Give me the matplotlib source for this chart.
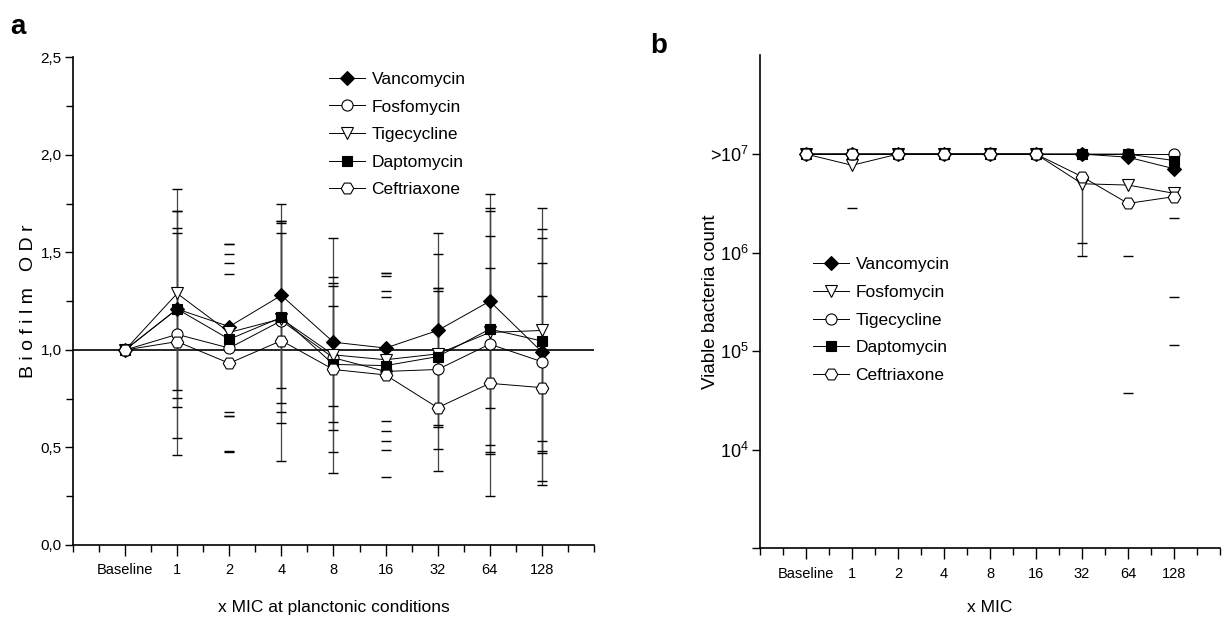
import numpy as np
import matplotlib
matplotlib.use("Agg")
import matplotlib.pyplot as plt
from matplotlib import font_manager
from matplotlib.ticker import FixedLocator, MultipleLocator, FuncFormatter, NullLocator

names = {f.name for f in font_manager.fontManager.ttflist}
font = 'Liberation Sans Narrow' if 'Liberation Sans Narrow' in names else 'Liberation Sans'
plt.rcParams['font.family'] = [font, 'DejaVu Sans']
plt.rcParams['mathtext.fontset'] = 'custom'
plt.rcParams['mathtext.rm'] = font

# x categories (shared by both panels)
mic_labels = ['Baseline', '1', '2', '4', '8', '16', '32', '64', '128']
xpos = np.arange(1, len(mic_labels) + 1)

# ---- panel a: biofilm ODr ----
drugs_a = ['Vancomycin', 'Fosfomycin', 'Tigecycline', 'Daptomycin', 'Ceftriaxone']
vanco_a = [1.0, 1.21, 1.12, 1.28, 1.04, 1.01, 1.10, 1.25, 0.99]
fosfo_a = [1.0, 1.08, 1.01, 1.15, 0.96, 0.89, 0.90, 1.03, 0.94]
tige_a = [1.0, 1.29, 1.09, 1.16, 0.975, 0.95, 0.98, 1.09, 1.10]
dapto_a = [1.0, 1.21, 1.055, 1.167, 0.926, 0.92, 0.966, 1.107, 1.046]
ceftr_a = [1.0, 1.043, 0.932, 1.048, 0.90, 0.872, 0.704, 0.829, 0.807]

# upper / lower error caps
vanco_hi = [np.nan, 1.714, 1.544, 1.747, 1.373, 1.397, 1.49, 1.80, 1.576]
vanco_lo = [np.nan, 0.756, 0.684, 0.807, 0.713, 0.636, 0.713, 0.704, 0.533]
fosfo_hi = [np.nan, 1.627, 1.39, 1.65, 1.328, 1.303, 1.30, 1.586, 1.279]
fosfo_lo = [np.nan, 0.547, 0.663, 0.684, 0.59, 0.535, 0.49, 0.475, 0.48]
tige_hi = [np.nan, 1.826, 1.49, 1.663, 1.345, 1.38, 1.316, 1.713, 1.727]
tige_lo = [np.nan, 0.795, 0.663, 0.624, 0.632, 0.585, 0.615, 0.513, 0.47]
dapto_hi = [np.nan, 1.714, 1.544, 1.598, 1.227, 1.27, 1.316, 1.73, 1.62]
dapto_lo = [np.nan, 0.71, 0.482, 0.727, 0.479, 0.487, 0.604, 0.465, 0.33]
ceftr_hi = [np.nan, 1.598, 1.444, 1.663, 1.576, 1.397, 1.598, 1.419, 1.444]
ceftr_lo = [np.nan, 0.462, 0.475, 0.43, 0.368, 0.35, 0.38, 0.25, 0.31]
# columns where the error bar stem is drawn
stem_a = [False, True, False, True, True, False, True, True, True]

# ---- panel b: viable bacteria count ----
drugs_b = ['Vancomycin', 'Fosfomycin', 'Tigecycline', 'Daptomycin', 'Ceftriaxone']
vanco_b = [1e7, 1e7, 1e7, 1e7, 1e7, 1e7, 1e7, 9.3e6, 7.1e6]
fosfo_b = [1e7, 7.7e6, 1e7, 1e7, 1e7, 1e7, 5.0e6, 4.85e6, 4.0e6]
tige_b = [1e7, 1e7, 1e7, 1e7, 1e7, 1e7, 1e7, 1e7, 1e7]
dapto_b = [1e7, 1e7, 1e7, 1e7, 1e7, 1e7, 1e7, 1e7, 8.6e6]
ceftr_b = [1e7, 1e7, 1e7, 1e7, 1e7, 1e7, 5.9e6, 3.16e6, 3.7e6]
vanco_b_lo = [np.nan, np.nan, np.nan, np.nan, np.nan, np.nan, np.nan, np.nan, 2.23e6]
fosfo_b_lo = [np.nan, 2.85e6, np.nan, np.nan, np.nan, np.nan, 9.3e5, 9.3e5, 3.58e5]
ceftr_b_lo = [np.nan, np.nan, np.nan, np.nan, np.nan, np.nan, 1.26e6, 3.76e4, 1.16e5]
stem_b = [False, False, False, False, False, False, True, False, False]

fig = plt.figure(figsize=(12.3, 6.22), dpi=100)
axa = fig.add_axes([0.0593, 0.1238, 0.4236, 0.7838])
axb = fig.add_axes([0.6179, 0.1182, 0.374, 0.7926])


def style_axes(ax):
    for s in ['top', 'right']:
        ax.spines[s].set_visible(False)
    for s in ['left', 'bottom']:
        ax.spines[s].set_linewidth(1.2)
    ax.set_xlim(0, 10)
    ax.set_xticks(xpos)
    ax.set_xticklabels(mic_labels)
    ax.xaxis.set_minor_locator(FixedLocator(np.arange(0, 10.01, 0.5)))
    ax.tick_params(axis='x', which='major', direction='out', length=8, width=1, labelsize=10.5, pad=5)
    ax.tick_params(axis='x', which='minor', direction='out', length=5, width=1)
    ax.tick_params(axis='y', which='major', direction='out', length=6, width=1, labelsize=11, pad=2)
    ax.tick_params(axis='y', which='minor', direction='out', length=5, width=1)


def draw_caps(ax, vals, stems, base):
    v = np.array(vals, dtype=float)
    ax.plot(xpos, v, ls='none', marker='_', ms=7, mew=1.0, color='k', zorder=2)
    st = np.array(stems)
    ax.vlines(xpos[st], np.array(base, dtype=float)[st], v[st], color='#444444', lw=0.9, zorder=1)


# panel a
style_axes(axa)
axa.set_ylim(0, 2.5)
axa.yaxis.set_major_locator(MultipleLocator(0.5))
axa.yaxis.set_minor_locator(MultipleLocator(0.25))
axa.yaxis.set_major_formatter(FuncFormatter(lambda v, p: f"{v:.1f}".replace('.', ',')))
axa.axhline(1.0, color='k', lw=1.2, zorder=1)

series_a = [
    (vanco_a, vanco_hi, vanco_lo, dict(marker='D', ms=7, mfc='k')),
    (fosfo_a, fosfo_hi, fosfo_lo, dict(marker='o', ms=8, mfc='white')),
    (tige_a, tige_hi, tige_lo, dict(marker='v', ms=9, mfc='white')),
    (dapto_a, dapto_hi, dapto_lo, dict(marker='s', ms=7, mfc='k')),
    (ceftr_a, ceftr_hi, ceftr_lo, dict(marker='H', ms=9, mfc='white')),
]
for (vals, hi, lo, mk), name in zip(series_a, drugs_a):
    draw_caps(axa, hi, stem_a, vals)
    draw_caps(axa, lo, stem_a, vals)
    axa.plot(xpos, vals, color='k', lw=0.7, mec='k', mew=0.8, label=name, zorder=3, **mk)

axa.set_ylabel('B i o f i l m   O D r', fontsize=14)
axa.yaxis.set_label_coords(-0.069, 0.5)
axa.set_xlabel('x MIC at planctonic conditions', fontsize=12.5)
axa.xaxis.set_label_coords(0.5, -0.113)
axa.legend(loc='upper left', bbox_to_anchor=(0.478, 0.985), frameon=False, fontsize=12.5,
           handlelength=2.1, handletextpad=0.35, labelspacing=0.72, borderaxespad=0)

# panel b
style_axes(axb)
axb.set_yscale('log')
axb.set_ylim(1e3, 1e8)
axb.yaxis.set_major_locator(FixedLocator([1e3, 1e4, 1e5, 1e6, 1e7]))
axb.yaxis.set_minor_locator(NullLocator())
axb.set_yticklabels(['', '10$^{4}$', '10$^{5}$', '10$^{6}$', '>10$^{7}$'], fontsize=13)

series_b = [
    (vanco_b, vanco_b_lo, dict(marker='D', ms=7, mfc='k')),
    (fosfo_b, fosfo_b_lo, dict(marker='v', ms=9, mfc='white')),
    (tige_b, None, dict(marker='o', ms=8, mfc='white')),
    (dapto_b, None, dict(marker='s', ms=7, mfc='k')),
    (ceftr_b, ceftr_b_lo, dict(marker='H', ms=9, mfc='white')),
]
for (vals, lo, mk), name in zip(series_b, drugs_b):
    if lo is not None:
        draw_caps(axb, lo, stem_b, vals)
    axb.plot(xpos, vals, color='k', lw=0.7, mec='k', mew=0.8, label=name, zorder=3, **mk)

axb.set_ylabel('Viable bacteria count', fontsize=13.5)
axb.yaxis.set_label_coords(-0.089, 0.5)
axb.set_xlabel('x MIC', fontsize=12.5)
axb.xaxis.set_label_coords(0.5, -0.104)
axb.legend(loc='upper left', bbox_to_anchor=(0.1, 0.605), frameon=False, fontsize=12.5,
           handlelength=2.1, handletextpad=0.35, labelspacing=0.72, borderaxespad=0)

fig.text(0.008, 0.945, 'a', fontsize=20, fontweight='bold', family='Liberation Sans')
fig.text(0.529, 0.915, 'b', fontsize=20, fontweight='bold', family='Liberation Sans')

fig.savefig('out.png', dpi=100)
